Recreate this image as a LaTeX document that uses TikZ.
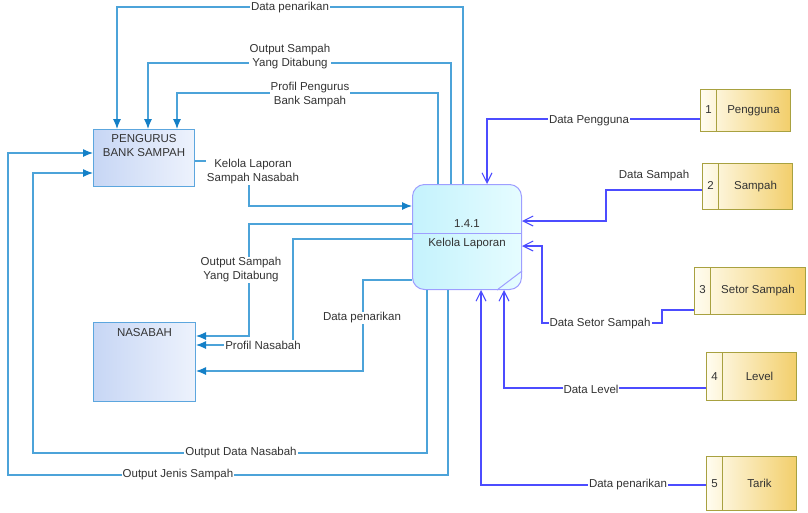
\documentclass[tikz,border=0pt]{standalone}
\usepackage{fontspec}
\setmainfont{Liberation Sans}
\usepackage{tikz}
\usetikzlibrary{arrows.meta}
\definecolor{lblue}{rgb}{0.30, 0.64, 0.85}
\definecolor{ablue}{rgb}{0.08, 0.50, 0.78}
\definecolor{fblue}{rgb}{0.30, 0.30, 1.00}
\definecolor{eborder}{rgb}{0.36, 0.65, 0.87}
\definecolor{etop}{rgb}{0.78, 0.84, 0.96}
\definecolor{ebot}{rgb}{0.93, 0.95, 0.99}
\definecolor{pborder}{rgb}{0.62, 0.62, 1.00}
\definecolor{pleft}{rgb}{0.77, 0.95, 0.99}
\definecolor{pright}{rgb}{0.90, 0.99, 1.00}
\definecolor{sborder}{rgb}{0.66, 0.63, 0.25}
\definecolor{sleft}{rgb}{1.00, 0.99, 0.94}
\definecolor{sright}{rgb}{0.95, 0.81, 0.42}
\definecolor{txt}{rgb}{0.2, 0.2, 0.2}
\tikzset{entity/.style = {draw=eborder, line width=1pt, left color=etop, right color=ebot, anchor=north west, inner sep=3pt}}
\tikzset{process/.style = {draw=pborder, line width=1pt, rounded corners=12pt, left color=pleft, right color=pright, anchor=north west, inner sep=0}}
\tikzset{store/.style = {draw=sborder, line width=1pt, left color=sleft, right color=sright, anchor=north west, inner sep=0}}
\tikzset{lflow/.style = {draw=lblue, line width=1.1pt, -{Latex[length=10pt, width=8pt, color=ablue]}}}
\tikzset{bflow/.style = {draw=fblue, line width=1.1pt, -{Straight Barb[length=10pt, width=10pt]}}}
\tikzset{lbl/.style = {fill=white, inner sep=1pt, align=center, text=txt}}

\begin{document}
\begin{tikzpicture}[x=1pt, y=-1pt, every node/.style={font=\fontsize{11.5}{14}\selectfont, text=txt}]
      \useasboundingbox (0, 0) rectangle (808, 512);
      % entities
      \node [entity, minimum width=101, minimum height=57] (peng) at (93, 129)
        {\parbox[t][51pt][t]{95pt}{\centering\rule{0pt}{10pt}PENGURUS\\BANK SAMPAH}};
      \node [entity, minimum width=102, minimum height=79] (nas) at (93, 322)
        {\parbox[t][73pt][t]{96pt}{\centering\rule{0pt}{11pt}NASABAH}};
      % process
      \node [process, minimum width=109, minimum height=105] (proc) at (412, 184)
        {\parbox[t][105pt][t]{109pt}{\centering\rule{0pt}{43pt}1.4.1\\[5pt]Kelola Laporan}};
      \draw [pborder, line width=1pt] (proc.west |- 0,233) -- (proc.east |- 0,233);
      \draw [pborder, line width=1pt] ([xshift=-25pt]proc.south east) -- ([yshift=19pt]proc.south east);
      % data stores
      \node [store, minimum width=90, minimum height=42] (s1) at (700, 89) {\makebox[16pt]{1}\makebox[74pt]{Pengguna}};
      \node [store, minimum width=90, minimum height=46] (s2) at (702, 163) {\makebox[16pt]{2}\makebox[74pt]{Sampah}};
      \node [store, minimum width=111, minimum height=47] (s3) at (694, 267) {\makebox[16pt]{3}\makebox[95pt]{Setor Sampah}};
      \node [store, minimum width=90, minimum height=48] (s4) at (706, 352) {\makebox[16pt]{4}\makebox[74pt]{Level}};
      \node [store, minimum width=90, minimum height=54] (s5) at (706, 456) {\makebox[16pt]{5}\makebox[74pt]{Tarik}};
      \foreach \s in {s1, s2, s3, s4, s5}
        \draw [sborder, line width=1pt] ([xshift=16pt]\s.north west) -- ([xshift=16pt]\s.south west);
      % flows from the process
      \draw [lflow] (proc.north -| 463,0) -- (463, 7) -| (peng.north -| 117,0);
      \draw [lflow] (proc.north -| 451,0) -- (451, 63) -| (peng.north -| 148,0);
      \draw [lflow] (proc.north -| 438,0) -- (438, 93) -| (peng.north -| 177,0);
      \draw [lflow] (peng.east |- 0,161) -| (249, 206) -- (proc.west |- 0,206);
      \draw [lflow] (proc.west |- 0,224) -| (249, 336) -- (nas.east |- 0,336);
      \draw [lflow] (proc.west |- 0,239) -| (293, 345) -- (nas.east |- 0,345);
      \draw [lflow] (proc.west |- 0,280) -| (363, 371) -- (nas.east |- 0,371);
      \draw [lflow] (proc.south -| 427,0) |- (33, 453) |- (peng.west |- 0,173);
      \draw [lflow] (proc.south -| 448,0) |- (8, 475) |- (peng.west |- 0,153);
      % flows from the stores
      \draw [bflow] (s1.west |- 0,119) -| (proc.north -| 487,0);
      \draw [bflow] (s2.west |- 0,190) -| (606, 221) -- (proc.east |- 0,221);
      \draw [bflow] (s3.west |- 0,310) -| (662, 323) -| (542, 246) -- (proc.east |- 0,246);
      \draw [bflow] (s4.west |- 0,388) -| (proc.south -| 504,0);
      \draw [bflow] (s5.west |- 0,485) -| (proc.south -| 481,0);
      % labels
      \node [lbl] (l1) at (290, 8) {Data penarikan};
      \node [lbl] (l2) at (290, 57) {Output Sampah\\Yang Ditabung};
      \node [lbl] (l3) at (310, 95) {Profil Pengurus\\Bank Sampah};
      \node [lbl] (l4) at (253, 172) {Kelola Laporan\\Sampah Nasabah};
      \node [lbl] (l5) at (241, 270) {Output Sampah\\Yang Ditabung};
      \node [lbl] (l6) at (263, 345) {Profil Nasabah};
      \node [lbl] (l7) at (362, 318) {Data penarikan};
      \node [lbl] (l8) at (241, 453) {Output Data Nasabah};
      \node [lbl] (l9) at (178, 475) {Output Jenis Sampah};
      \node [lbl] (l10) at (589, 121) {Data Pengguna};
      \node [lbl] (l11) at (654, 176) {Data Sampah};
      \node [lbl] (l12) at (600, 324) {Data Setor Sampah};
      \node [lbl] (l13) at (591, 389) {Data Level};
      \node [lbl] (l14) at (628, 485) {Data penarikan};
    \end{tikzpicture}
\end{document}
